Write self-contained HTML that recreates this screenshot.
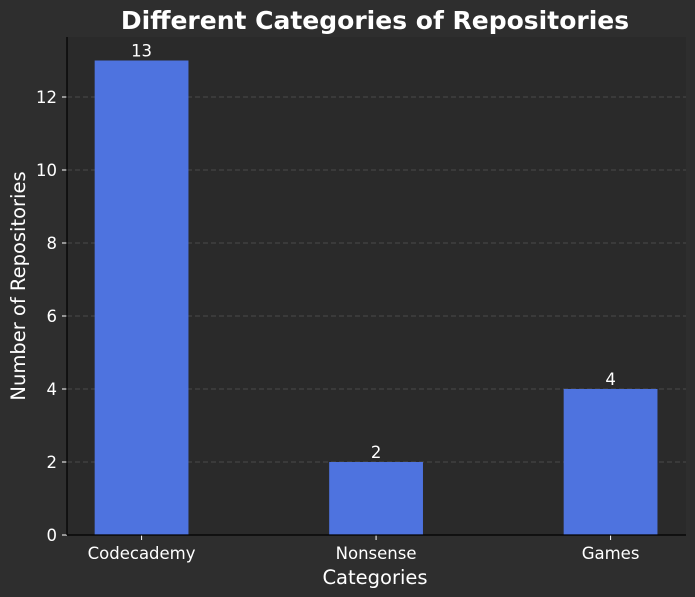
<!DOCTYPE html>
<html><head><meta charset="utf-8"><style>
body{margin:0;background:#2e2e2e}
svg{display:block;font-family:"DejaVu Sans","Liberation Sans",sans-serif}
</style></head><body>
<svg id="c" width="695" height="597">
<rect width="695" height="597" fill="#2e2e2e"/>
<rect x="67" y="37" width="619" height="498" fill="#2a2a2a"/>
<text x="375" y="29" fill="#fff" font-size="25" font-weight="bold" text-anchor="middle">Different Categories of Repositories</text>
<text x="375" y="584" fill="#fff" font-size="19.5" text-anchor="middle">Categories</text>
<text transform="translate(25,286) rotate(-90)" fill="#fff" font-size="19.5" text-anchor="middle">Number of Repositories</text>
<g id="grid"></g><g id="bars"></g><g id="ticks"></g>
<line x1="67" y1="37" x2="67" y2="535" stroke="#000" stroke-width="1.2"/>
<line x1="67" y1="535" x2="686" y2="535" stroke="#000" stroke-width="1.2"/>
</svg>
<script>
const categories=["Codecademy","Nonsense","Games"];
const values=[13,2,4];
const yTicks=[0,2,4,6,8,10,12];
const NS="http://www.w3.org/2000/svg";
const x=i=>67+(i+0.318)*234.5;
const y=v=>535-v*36.5;
const bw=0.4*234.5;
function mk(t,a,p){const e=document.createElementNS(NS,t);for(const k in a)e.setAttribute(k,a[k]);p.appendChild(e);return e;}
const g=document.getElementById('grid'),b=document.getElementById('bars'),tk=document.getElementById('ticks');
yTicks.forEach(v=>{
 if(v>0){const l=mk('line',{x1:67,x2:686,y1:y(v),y2:y(v),stroke:'#555','stroke-dasharray':'5,3','stroke-width':0.8},g);
 
 }
 const t=mk('line',{x1:62,x2:67,y1:y(v),y2:y(v),stroke:'#fff'},tk);
 
 
 const s=mk('text',{x:57,y:y(v)+6,fill:'#fff','font-size':16.5,'text-anchor':'end'},tk);s.textContent=v;
 
 
});
categories.forEach((c,i)=>{
 const r=mk('rect',{x:x(i)-bw/2,y:y(values[i]),width:bw,height:y(0)-y(values[i]),fill:'#4e73df'},b);
 
 
 const v=mk('text',{x:x(i),y:y(values[i])-4,fill:'#fff','font-size':16.5,'text-anchor':'middle'},b);v.textContent=values[i];
 
 
 const t=mk('line',{x1:x(i),x2:x(i),y1:535,y2:540,stroke:'#fff'},tk);
 
 
 const s=mk('text',{x:x(i),y:559,fill:'#fff','font-size':16.5,'text-anchor':'middle'},tk);s.textContent=c;
 
 
});
</script>
</body></html>
